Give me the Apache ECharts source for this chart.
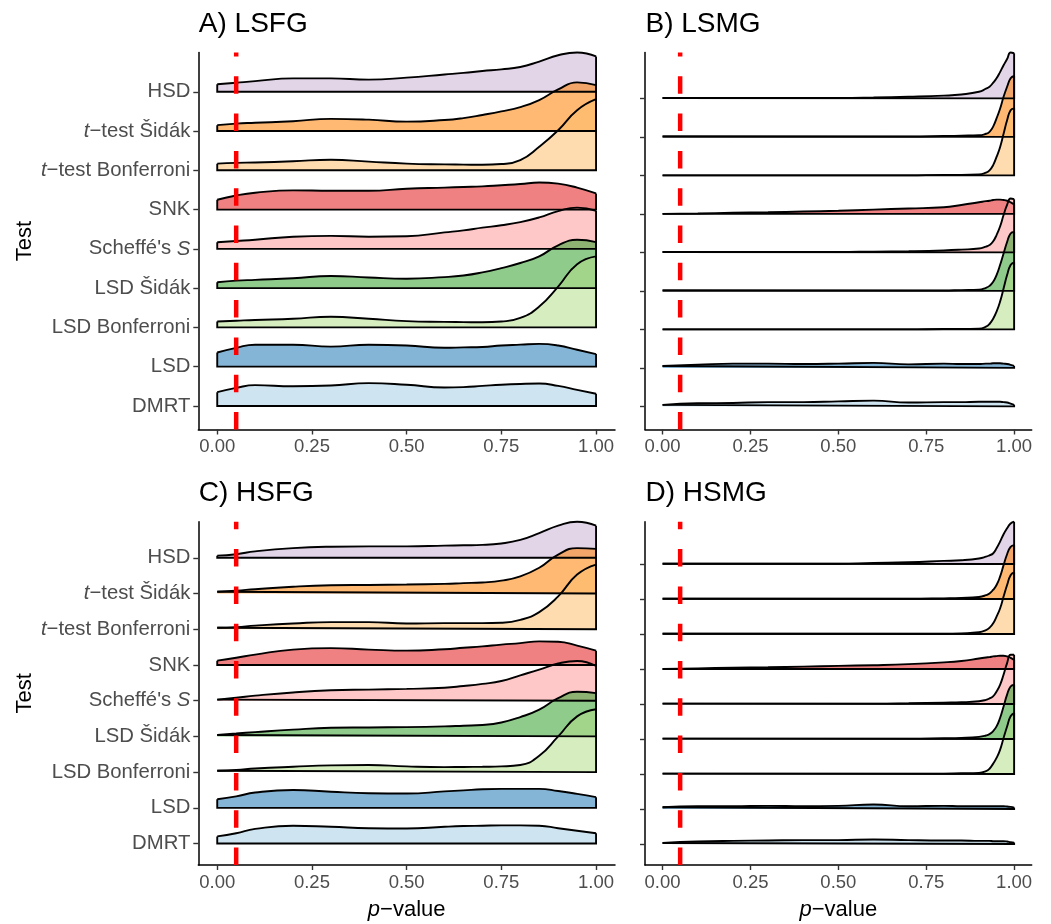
<!DOCTYPE html>
<html>
<head>
<meta charset="utf-8">
<script src="https://cdn.jsdelivr.net/npm/echarts@6/dist/echarts.min.js"></script>
<style>
html, body { margin: 0; padding: 0; background: #fff; }
#main { width: 1051px; height: 924px; }
</style>
</head>
<body>
<div id="main"></div>
<script>
// tests, bottom (position 1) to top (position 9)
var tests = ['DMRT', 'LSD', 'LSD Bonferroni', 'LSD Šidák', "Scheffé's S", 'SNK', 't-test Bonferroni', 't-test Šidák', 'HSD'];
var testLabels = ['DMRT', 'LSD', 'LSD Bonferroni', 'LSD Šidák', "Scheffé's {i|S}", 'SNK', '{i|t}−test Bonferroni', '{i|t}−test Šidák', 'HSD'];
var testColors = ['#A6CEE3', '#1F78B4', '#B2DF8A', '#33A02C', '#FB9A99', '#E31A1C', '#FDBF6F', '#FF7F00', '#CAB2D6'];
var xTicks = [0, 0.25, 0.5, 0.75, 1];
var cutoff = 0.05;

// p-value grids the ridge heights were read at
var xsWide = [0, 0.05, 0.1, 0.2, 0.3, 0.4, 0.5, 0.6, 0.65, 0.7, 0.75, 0.8, 0.85, 0.9, 0.95, 1];
var xsPeak = [0, 0.1, 0.2, 0.3, 0.4, 0.5, 0.6, 0.7, 0.8, 0.85, 0.9, 0.92, 0.93, 0.94, 0.95, 0.96, 0.97, 0.98, 0.99, 1];

// ridge heights (in row units), one row per test in the order of `tests`
var lsfg = [
    [0.35, 0.46, 0.53, 0.50, 0.52, 0.58, 0.54, 0.47, 0.48, 0.51, 0.54, 0.56, 0.57, 0.51, 0.41, 0.31],
    [0.36, 0.48, 0.56, 0.56, 0.51, 0.56, 0.54, 0.48, 0.49, 0.50, 0.54, 0.56, 0.58, 0.54, 0.43, 0.32],
    [0.15, 0.17, 0.19, 0.22, 0.27, 0.22, 0.16, 0.14, 0.135, 0.13, 0.15, 0.24, 0.53, 1.04, 1.61, 1.81],
    [0.15, 0.19, 0.21, 0.25, 0.31, 0.27, 0.24, 0.28, 0.32, 0.40, 0.51, 0.64, 0.81, 1.09, 1.23, 1.17],
    [0.17, 0.20, 0.23, 0.31, 0.33, 0.31, 0.32, 0.42, 0.47, 0.54, 0.60, 0.68, 0.80, 0.96, 1.05, 0.97],
    [0.25, 0.36, 0.43, 0.49, 0.48, 0.48, 0.53, 0.56, 0.575, 0.59, 0.62, 0.65, 0.69, 0.66, 0.56, 0.41],
    [0.17, 0.19, 0.20, 0.23, 0.27, 0.22, 0.17, 0.15, 0.145, 0.14, 0.16, 0.26, 0.60, 1.02, 1.53, 1.81],
    [0.15, 0.19, 0.21, 0.25, 0.31, 0.29, 0.24, 0.28, 0.33, 0.41, 0.50, 0.61, 0.79, 1.06, 1.24, 1.17],
    [0.19, 0.23, 0.27, 0.34, 0.34, 0.31, 0.36, 0.44, 0.48, 0.53, 0.57, 0.63, 0.77, 0.93, 1.00, 0.90]
];
var lsmg = [
    [0.04, 0.08, 0.09, 0.11, 0.11, 0.13, 0.15, 0.10, 0.11, 0.11, 0.12, 0.12, 0.12, 0.12, 0.12, 0.12, 0.11, 0.10, 0.07, 0.04],
    [0.05, 0.08, 0.11, 0.11, 0.10, 0.11, 0.13, 0.09, 0.11, 0.10, 0.10, 0.11, 0.11, 0.12, 0.12, 0.12, 0.11, 0.10, 0.08, 0.05],
    [0, 0, 0, 0, 0, 0, 0, 0, 0.01, 0.01, 0.02, 0.07, 0.14, 0.27, 0.46, 0.72, 1.06, 1.41, 1.67, 1.74],
    [0.01, 0.01, 0.01, 0.01, 0.01, 0.01, 0.01, 0.01, 0.01, 0.02, 0.03, 0.08, 0.13, 0.23, 0.41, 0.67, 0.97, 1.27, 1.49, 1.53],
    [0.01, 0.01, 0.01, 0.01, 0.01, 0.01, 0.02, 0.03, 0.05, 0.07, 0.10, 0.15, 0.19, 0.28, 0.45, 0.67, 0.97, 1.23, 1.40, 1.38],
    [0, 0.01, 0.03, 0.04, 0.06, 0.08, 0.11, 0.14, 0.17, 0.23, 0.30, 0.33, 0.34, 0.36, 0.37, 0.37, 0.36, 0.34, 0.30, 0.24],
    [0, 0, 0, 0, 0, 0, 0, 0, 0.01, 0.01, 0.02, 0.07, 0.13, 0.26, 0.48, 0.73, 1.08, 1.43, 1.69, 1.74],
    [0.01, 0.01, 0.01, 0.01, 0.01, 0.01, 0.01, 0.01, 0.02, 0.03, 0.04, 0.08, 0.13, 0.26, 0.48, 0.73, 1.04, 1.30, 1.52, 1.58],
    [0.01, 0.01, 0.01, 0.01, 0.01, 0.01, 0.02, 0.04, 0.07, 0.10, 0.17, 0.25, 0.30, 0.40, 0.52, 0.68, 0.86, 1.02, 1.19, 1.17]
];
var hsfg = [
    [0.20, 0.29, 0.41, 0.50, 0.47, 0.43, 0.42, 0.47, 0.49, 0.50, 0.51, 0.51, 0.50, 0.43, 0.36, 0.29],
    [0.24, 0.32, 0.43, 0.50, 0.45, 0.41, 0.40, 0.46, 0.49, 0.52, 0.53, 0.53, 0.53, 0.47, 0.39, 0.30],
    [0.04, 0.06, 0.10, 0.15, 0.19, 0.20, 0.16, 0.14, 0.145, 0.15, 0.16, 0.20, 0.46, 1.00, 1.56, 1.76],
    [0.04, 0.08, 0.12, 0.19, 0.24, 0.25, 0.26, 0.28, 0.30, 0.32, 0.39, 0.54, 0.75, 1.07, 1.25, 1.21],
    [0.03, 0.08, 0.14, 0.23, 0.29, 0.31, 0.33, 0.36, 0.41, 0.47, 0.55, 0.71, 0.87, 1.04, 1.11, 0.97],
    [0.12, 0.20, 0.29, 0.43, 0.47, 0.43, 0.40, 0.44, 0.48, 0.52, 0.57, 0.61, 0.66, 0.65, 0.54, 0.40],
    [0.04, 0.06, 0.10, 0.16, 0.20, 0.20, 0.16, 0.17, 0.17, 0.17, 0.18, 0.26, 0.48, 0.92, 1.53, 1.81],
    [0.05, 0.08, 0.12, 0.19, 0.23, 0.24, 0.25, 0.27, 0.29, 0.31, 0.36, 0.48, 0.72, 1.09, 1.27, 1.25],
    [0.06, 0.10, 0.18, 0.27, 0.31, 0.32, 0.32, 0.34, 0.35, 0.36, 0.40, 0.50, 0.69, 0.90, 1.01, 0.90]
];
var hsmg = [
    [0.03, 0.07, 0.09, 0.10, 0.11, 0.11, 0.13, 0.11, 0.10, 0.10, 0.09, 0.09, 0.09, 0.08, 0.08, 0.08, 0.08, 0.07, 0.05, 0.04],
    [0.05, 0.08, 0.08, 0.09, 0.08, 0.09, 0.13, 0.08, 0.09, 0.08, 0.08, 0.08, 0.08, 0.08, 0.08, 0.08, 0.08, 0.07, 0.06, 0.04],
    [0.01, 0.01, 0.01, 0.01, 0.01, 0.01, 0.01, 0.01, 0.01, 0.02, 0.03, 0.08, 0.15, 0.29, 0.46, 0.69, 1.03, 1.36, 1.65, 1.74],
    [0.01, 0.01, 0.01, 0.01, 0.01, 0.01, 0.01, 0.01, 0.02, 0.03, 0.06, 0.10, 0.14, 0.22, 0.36, 0.60, 0.93, 1.27, 1.50, 1.55],
    [0.01, 0.01, 0.01, 0.01, 0.01, 0.01, 0.01, 0.02, 0.04, 0.05, 0.08, 0.12, 0.16, 0.22, 0.36, 0.55, 0.84, 1.17, 1.41, 1.41],
    [0, 0.02, 0.04, 0.05, 0.07, 0.09, 0.11, 0.14, 0.19, 0.23, 0.30, 0.33, 0.34, 0.36, 0.37, 0.38, 0.38, 0.36, 0.32, 0.26],
    [0.01, 0.01, 0.01, 0.01, 0.01, 0.01, 0.01, 0.01, 0.01, 0.02, 0.05, 0.11, 0.18, 0.30, 0.50, 0.73, 1.07, 1.40, 1.68, 1.76],
    [0.01, 0.01, 0.01, 0.01, 0.01, 0.01, 0.01, 0.01, 0.02, 0.03, 0.06, 0.11, 0.16, 0.26, 0.40, 0.64, 0.97, 1.28, 1.49, 1.54],
    [0.01, 0.01, 0.01, 0.01, 0.01, 0.01, 0.03, 0.05, 0.09, 0.11, 0.16, 0.21, 0.25, 0.30, 0.45, 0.64, 0.85, 1.02, 1.16, 1.21]
];

var font = "'Liberation Sans', Arial, Helvetica, sans-serif";
var textGrey = '#4D4D4D';

var panels = [
    { title: 'A) LSFG', xs: xsWide, dens: lsfg, left: 198.3, top: 52.5, width: 416.7, height: 377, yLabels: true, xName: false },
    { title: 'B) LSMG', xs: xsPeak, dens: lsmg, left: 645, top: 52.5, width: 386.7, height: 377, yLabels: false, xName: false },
    { title: 'C) HSFG', xs: xsWide, dens: hsfg, left: 198.3, top: 521.7, width: 416.7, height: 343.3, yLabels: true, xName: true },
    { title: 'D) HSMG', xs: xsPeak, dens: hsmg, left: 645, top: 521.7, width: 386.7, height: 343.3, yLabels: false, xName: true }
];

var grids = [], xAxes = [], yAxes = [], series = [], graphics = [];
var rowValues = tests.map(function (t, i) { return i + 1; });

panels.forEach(function (p, pi) {
    var yMax = 0;
    p.dens.forEach(function (d, i) {
        d.forEach(function (v) { yMax = Math.max(yMax, i + 1 + v); });
    });

    grids.push({ left: p.left, top: p.top, width: p.width, height: p.height, containLabel: false, outerBoundsMode: 'none' });

    xAxes.push({
        type: 'value', gridIndex: pi, min: -0.05, max: 1.05,
        axisLine: { show: true, onZero: false, lineStyle: { color: '#000', width: 1.5 } },
        axisTick: { show: true, length: 5, customValues: xTicks, lineStyle: { color: '#333', width: 1.4 } },
        axisLabel: {
            customValues: xTicks, color: textGrey, fontSize: 18.5, fontFamily: font, margin: 8,
            formatter: function (v) { return v.toFixed(2); }
        },
        splitLine: { show: false },
        name: p.xName ? '{i|p}−value' : '',
        nameLocation: 'middle', nameGap: 34,
        nameTextStyle: {
            color: '#000', fontSize: 22, fontFamily: font,
            rich: { i: { fontStyle: 'italic', fontSize: 22, fontFamily: font, color: '#000' } }
        }
    });

    yAxes.push({
        type: 'value', gridIndex: pi, min: 0.4, max: yMax,
        axisLine: { show: true, onZero: false, lineStyle: { color: '#000', width: 1.5 } },
        axisTick: { show: true, length: 5, customValues: rowValues, lineStyle: { color: '#333', width: 1.4 } },
        axisLabel: {
            show: p.yLabels, customValues: rowValues, color: textGrey, fontSize: 20.3, fontFamily: font, margin: 8,
            formatter: function (v) { return testLabels[Math.round(v) - 1]; },
            rich: { i: { fontStyle: 'italic', fontSize: 20.3, fontFamily: font, color: textGrey } }
        },
        splitLine: { show: false }
    });

    // top ridge first, so lower ridges are drawn in front
    for (var i = tests.length - 1; i >= 0; i--) {
        var d = p.dens[i], pos = i + 1;
        series.push({
            type: 'line', name: tests[i], xAxisIndex: pi, yAxisIndex: pi,
            data: p.xs.map(function (x, k) { return [x, pos + d[k]]; }),
            smooth: 0.5, symbol: 'none', clip: false, silent: true,
            lineStyle: { color: '#000', width: 1.9 },
            areaStyle: { color: testColors[i], opacity: 0.55, origin: pos }
        });
        series.push({
            type: 'line', xAxisIndex: pi, yAxisIndex: pi,
            data: [[0, pos + d[0]], [0, pos], [1, pos], [1, pos + d[d.length - 1]]],
            symbol: 'none', clip: false, silent: true,
            lineStyle: { color: '#000', width: 1.9, join: 'miter' }
        });
    }

    series.push({
        type: 'line', xAxisIndex: pi, yAxisIndex: pi,
        data: [[cutoff, 0.4], [cutoff, yMax]],
        symbol: 'none', silent: true,
        lineStyle: { color: '#FF0000', width: 4.5, type: [17.5, 19.8], cap: 'butt' }
    });

    graphics.push({
        type: 'text', x: p.left + 0.5, y: p.top - 28.5,
        style: { text: p.title, fontSize: 28, fontFamily: font, fill: '#000', align: 'left', verticalAlign: 'middle' }
    });
    if (p.yLabels) {
        graphics.push({
            type: 'text', x: 25, y: p.top + p.height / 2, rotation: Math.PI / 2,
            style: { text: 'Test', fontSize: 22, fontFamily: font, fill: '#000', align: 'center', verticalAlign: 'middle' }
        });
    }
});

var myChart = echarts.init(document.getElementById('main'));
myChart.setOption({
    animation: false,
    backgroundColor: '#fff',
    grid: grids,
    xAxis: xAxes,
    yAxis: yAxes,
    series: series,
    graphic: graphics
});
</script>
</body>
</html>
